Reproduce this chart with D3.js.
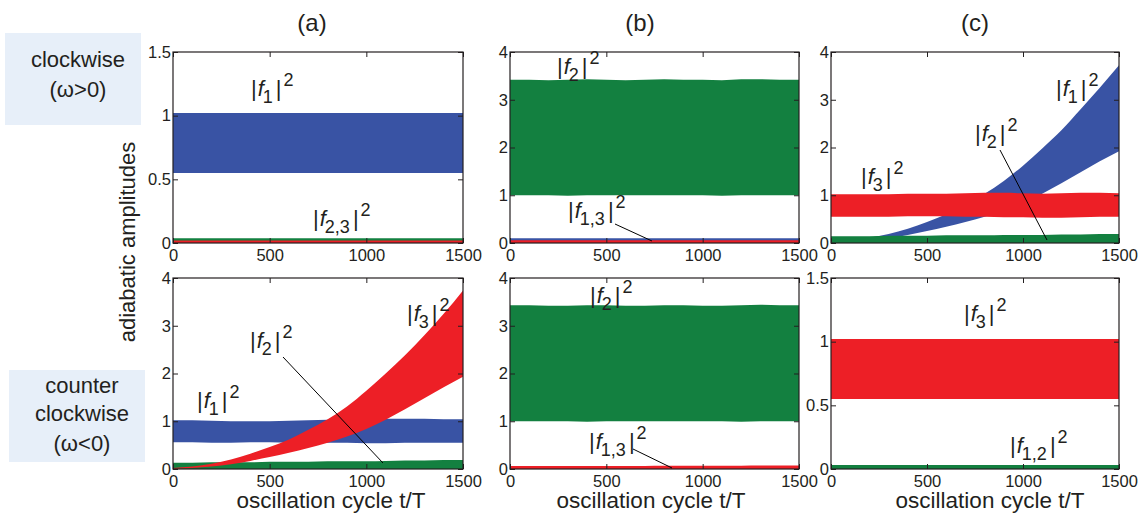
<!DOCTYPE html>
<html>
<head>
<meta charset="utf-8">
<script src="https://cdn.jsdelivr.net/npm/d3@7"></script>
<style>
  body { margin: 0; background: #ffffff; }
  text { font-family: "Liberation Sans", Arial, Helvetica, sans-serif; fill: #231f20; }
</style>
</head>
<body>
<svg id="chart" width="1145" height="517"></svg>
<script>
// Sample times (oscillation cycles) where the band envelopes were read.
const tSteps = [0, 100, 200, 300, 400, 500, 600, 700, 800, 900, 1000, 1100, 1200, 1300, 1400, 1500];
const zeros  = [0, 0, 0, 0, 0, 0, 0, 0, 0, 0, 0, 0, 0, 0, 0, 0];

// (a) clockwise: lower / upper envelopes.
const cwAF1Low   = [0.55, 0.55, 0.55, 0.55, 0.55, 0.55, 0.55, 0.55, 0.55, 0.55, 0.55, 0.55, 0.55, 0.55, 0.55, 0.55];
const cwAF1High  = [1.02, 1.02, 1.02, 1.02, 1.02, 1.02, 1.02, 1.02, 1.02, 1.02, 1.02, 1.02, 1.02, 1.02, 1.02, 1.02];
const cwAF2High  = [0.037, 0.037, 0.037, 0.037, 0.037, 0.037, 0.037, 0.037, 0.037, 0.037, 0.037, 0.037, 0.037, 0.037, 0.037, 0.037];
const cwAF3High  = [0.02, 0.02, 0.02, 0.02, 0.02, 0.02, 0.02, 0.02, 0.02, 0.02, 0.02, 0.02, 0.02, 0.02, 0.02, 0.02];

// (a) counter clockwise.
const ccwAF1Low  = [0.56, 0.56, 0.55, 0.55, 0.56, 0.56, 0.55, 0.55, 0.55, 0.55, 0.54, 0.54, 0.55, 0.55, 0.55, 0.55];
const ccwAF1High = [1.02, 1.02, 1.01, 1.00, 1.00, 1.00, 1.01, 1.02, 1.03, 1.03, 1.04, 1.05, 1.05, 1.05, 1.04, 1.04];
const ccwAF2High = [0.13, 0.13, 0.14, 0.14, 0.14, 0.15, 0.15, 0.15, 0.16, 0.16, 0.16, 0.17, 0.18, 0.18, 0.19, 0.19];
const ccwAF3Low  = [0.00, 0.02, 0.05, 0.10, 0.17, 0.25, 0.34, 0.44, 0.55, 0.68, 0.84, 1.03, 1.25, 1.48, 1.71, 1.93];
const ccwAF3High = [0.02, 0.05, 0.11, 0.20, 0.32, 0.46, 0.62, 0.82, 1.04, 1.31, 1.64, 2.00, 2.38, 2.80, 3.25, 3.74];

// (b) clockwise.
const cwBF2Low   = [1.00, 1.00, 1.00, 0.99, 1.00, 1.00, 1.00, 1.00, 1.00, 1.00, 1.00, 0.99, 1.00, 1.00, 1.00, 1.00];
const cwBF2High  = [3.42, 3.42, 3.41, 3.42, 3.43, 3.42, 3.41, 3.42, 3.43, 3.42, 3.42, 3.41, 3.43, 3.43, 3.42, 3.42];
const cwBF1High  = [0.1, 0.1, 0.1, 0.1, 0.1, 0.1, 0.1, 0.1, 0.1, 0.1, 0.1, 0.1, 0.1, 0.1, 0.1, 0.1];
const cwBF3High  = [0.055, 0.055, 0.055, 0.055, 0.055, 0.055, 0.055, 0.055, 0.055, 0.055, 0.055, 0.055, 0.055, 0.055, 0.055, 0.055];

// (b) counter clockwise.
const ccwBF2Low  = [1.00, 1.00, 1.00, 1.00, 0.99, 1.00, 1.00, 1.00, 1.00, 1.00, 1.00, 1.00, 0.99, 1.00, 1.00, 1.00];
const ccwBF2High = [3.43, 3.43, 3.42, 3.42, 3.43, 3.43, 3.42, 3.42, 3.43, 3.43, 3.42, 3.42, 3.43, 3.44, 3.43, 3.43];
const ccwBF3High = [0.065, 0.065, 0.065, 0.065, 0.065, 0.065, 0.065, 0.065, 0.07, 0.07, 0.07, 0.07, 0.07, 0.075, 0.075, 0.075];

// (c) clockwise.
const cwCF1Low   = [0.00, 0.02, 0.05, 0.10, 0.17, 0.25, 0.34, 0.44, 0.55, 0.68, 0.84, 1.03, 1.25, 1.48, 1.71, 1.92];
const cwCF1High  = [0.02, 0.05, 0.11, 0.19, 0.30, 0.44, 0.60, 0.80, 1.03, 1.30, 1.62, 1.98, 2.36, 2.80, 3.25, 3.72];
const cwCF2High  = [0.14, 0.14, 0.14, 0.15, 0.15, 0.15, 0.16, 0.16, 0.16, 0.17, 0.17, 0.17, 0.18, 0.18, 0.19, 0.19];
const cwCF3Low   = [0.55, 0.55, 0.55, 0.55, 0.56, 0.56, 0.56, 0.55, 0.55, 0.54, 0.54, 0.53, 0.53, 0.54, 0.55, 0.55];
const cwCF3High  = [1.02, 1.02, 1.02, 1.02, 1.03, 1.03, 1.03, 1.04, 1.05, 1.05, 1.04, 1.03, 1.04, 1.05, 1.05, 1.04];

// (c) counter clockwise.
const ccwCF3Low  = [0.55, 0.55, 0.55, 0.55, 0.55, 0.55, 0.55, 0.55, 0.55, 0.55, 0.55, 0.55, 0.55, 0.55, 0.55, 0.55];
const ccwCF3High = [1.02, 1.02, 1.02, 1.02, 1.02, 1.02, 1.02, 1.02, 1.02, 1.02, 1.02, 1.02, 1.02, 1.02, 1.02, 1.02];
const ccwCF1High = [0.032, 0.032, 0.032, 0.032, 0.032, 0.032, 0.032, 0.032, 0.032, 0.032, 0.032, 0.032, 0.032, 0.032, 0.032, 0.032];

// Axis ticks.
const xTicks = [0, 500, 1000, 1500];
const yTicksSmall = [0, 0.5, 1, 1.5];
const yTicksLarge = [0, 1, 2, 3, 4];
const panelTitles = ["(a)", "(b)", "(c)"];

// Colours of the three amplitudes.
const blue = "#3953a4", green = "#138040", red = "#ed1f26";

const svg = d3.select("#chart");

// Column and row extents of the six plot boxes.
const cols = [[173, 463], [510, 799], [831, 1119]];
const rows = [[52, 243], [278, 469]];

// One entry per panel: its cell, y range and the bands in drawing order.
const panels = [
  { c: 0, r: 0, yMax: 1.5, ticks: yTicksSmall, bands: [
      { low: cwAF1Low, high: cwAF1High, color: blue },
      { low: zeros, high: cwAF2High, color: green },
      { low: zeros, high: cwAF3High, color: red }],
    labels: [{ x: 251, y: 96, sub: "1" }, { x: 313, y: 226, sub: "2,3" }] },
  { c: 0, r: 1, yMax: 4, ticks: yTicksLarge, bands: [
      { low: zeros, high: ccwAF2High, color: green },
      { low: ccwAF1Low, high: ccwAF1High, color: blue },
      { low: ccwAF3Low, high: ccwAF3High, color: red }],
    labels: [{ x: 197, y: 408, sub: "1" }, { x: 250, y: 348, sub: "2" }, { x: 407, y: 321, sub: "3" }],
    pointer: [283, 357, 383, 463] },
  { c: 1, r: 0, yMax: 4, ticks: yTicksLarge, bands: [
      { low: cwBF2Low, high: cwBF2High, color: green },
      { low: zeros, high: cwBF1High, color: blue },
      { low: zeros, high: cwBF3High, color: red }],
    labels: [{ x: 557, y: 74, sub: "2" }, { x: 568, y: 218, sub: "1,3" }],
    pointer: [615, 224, 652, 241] },
  { c: 1, r: 1, yMax: 4, ticks: yTicksLarge, bands: [
      { low: ccwBF2Low, high: ccwBF2High, color: green },
      { low: zeros, high: ccwBF3High, color: red }],
    labels: [{ x: 590, y: 303, sub: "2" }, { x: 589, y: 449, sub: "1,3" }],
    pointer: [633, 449, 672, 468] },
  { c: 2, r: 0, yMax: 4, ticks: yTicksLarge, bands: [
      { low: cwCF1Low, high: cwCF1High, color: blue },
      { low: zeros, high: cwCF2High, color: green },
      { low: cwCF3Low, high: cwCF3High, color: red }],
    labels: [{ x: 1056, y: 96, sub: "1" }, { x: 975, y: 141, sub: "2" }, { x: 861, y: 184, sub: "3" }],
    pointer: [1000, 150, 1047, 240] },
  { c: 2, r: 1, yMax: 1.5, ticks: yTicksSmall, bands: [
      { low: ccwCF3Low, high: ccwCF3High, color: red },
      { low: zeros, high: ccwCF1High, color: green }],
    labels: [{ x: 964, y: 321, sub: "3" }, { x: 1010, y: 453, sub: "1,2" }] }
];

// Write |f_sub|^2 with an italic f, a subscript and a superscript.
function addAmplitudeLabel(x, y, sub) {
  const t = svg.append("text").attr("x", x).attr("y", y).attr("font-size", 22);
  t.append("tspan").text("|");
  t.append("tspan").attr("font-style", "italic").attr("dx", 1).text("f");
  t.append("tspan").attr("font-size", 18).attr("dy", 7).attr("dx", -1).text(sub);
  t.append("tspan").attr("dy", -7).attr("dx", 3).text("|");
  t.append("tspan").attr("font-size", 18).attr("dy", -10).attr("dx", 2).text("2");
}

panels.forEach((p, i) => {
  const [x0, x1] = cols[p.c];
  const [y0, y1] = rows[p.r];
  const x = d3.scaleLinear().domain([0, 1500]).range([x0, x1]);
  const y = d3.scaleLinear().domain([0, p.yMax]).range([y1, y0]);

  // Clip the bands to the plot box.
  svg.append("clipPath").attr("id", "clip" + i)
    .append("rect").attr("x", x0).attr("y", y0).attr("width", x1 - x0).attr("height", y1 - y0);

  const area = d3.area()
    .x((d, j) => x(tSteps[j]))
    .curve(d3.curveMonotoneX);

  const g = svg.append("g").attr("clip-path", `url(#clip${i})`);
  p.bands.forEach(b => {
    g.append("path")
      .attr("d", area.y0((d, j) => y(b.low[j])).y1((d, j) => y(b.high[j]))(tSteps))
      .attr("fill", b.color);
  });

  // MATLAB style axes: inward ticks on all four sides.
  svg.append("g").attr("transform", `translate(0,${y1})`)
    .call(d3.axisBottom(x).tickValues(xTicks).tickSize(-5).tickPadding(6).tickFormat(d => String(d)))
    .call(a => a.select(".domain").remove())
    .selectAll("text").attr("font-size", 16.5).style("fill", "#231f20");
  svg.append("g").attr("transform", `translate(0,${y0})`)
    .call(d3.axisTop(x).tickValues(xTicks).tickSize(-5).tickFormat(""))
    .call(a => a.select(".domain").remove());
  svg.append("g").attr("transform", `translate(${x0},0)`)
    .call(d3.axisLeft(y).tickValues(p.ticks).tickSize(-5).tickPadding(2).tickFormat(d => String(d)))
    .call(a => a.select(".domain").remove())
    .selectAll("text").attr("font-size", 16.5).style("fill", "#231f20");
  svg.append("g").attr("transform", `translate(${x1},0)`)
    .call(d3.axisRight(y).tickValues(p.ticks).tickSize(-5).tickFormat(""))
    .call(a => a.select(".domain").remove());
  svg.selectAll(".tick line").attr("stroke", "#231f20");

  // Box around the plot.
  svg.append("rect")
    .attr("x", x0).attr("y", y0).attr("width", x1 - x0).attr("height", y1 - y0)
    .attr("fill", "none").attr("stroke", "#231f20").attr("stroke-width", 1.2);

  if (p.pointer) {
    svg.append("line")
      .attr("x1", p.pointer[0]).attr("y1", p.pointer[1])
      .attr("x2", p.pointer[2]).attr("y2", p.pointer[3])
      .attr("stroke", "#000000").attr("stroke-width", 1);
  }
  p.labels.forEach(l => addAmplitudeLabel(l.x, l.y, l.sub));
});

// Column titles.
const titleX = [312, 640, 975];
panelTitles.forEach((s, i) => {
  svg.append("text").attr("x", titleX[i]).attr("y", 31)
    .attr("text-anchor", "middle").attr("font-size", 24).text(s);
});

// Axis labels.
const xLabelX = [331, 651, 990];
xLabelX.forEach(cx => {
  svg.append("text").attr("x", cx).attr("y", 508)
    .attr("text-anchor", "middle").attr("font-size", 22.5).text("oscillation cycle t/T");
});
svg.append("text")
  .attr("transform", "translate(135,242) rotate(-90)")
  .attr("text-anchor", "middle").attr("font-size", 22).text("adiabatic amplitudes");

// Rotation direction boxes on the left.
const boxes = [
  { x: 5, y: 33, lines: ["clockwise", "(\u03c9>0)"], base: [67, 97] },
  { x: 9, y: 370, lines: ["counter", "clockwise", "(\u03c9<0)"], base: [393, 421, 451] }
];
boxes.forEach(b => {
  svg.append("rect").attr("x", b.x).attr("y", b.y).attr("width", 136).attr("height", 92)
    .attr("fill", "#e7eff9");
  b.lines.forEach((s, i) => {
    svg.append("text").attr("x", b.x + 73).attr("y", b.base[i])
      .attr("text-anchor", "middle").attr("font-size", 22).text(s);
  });
});
</script>
</body>
</html>
